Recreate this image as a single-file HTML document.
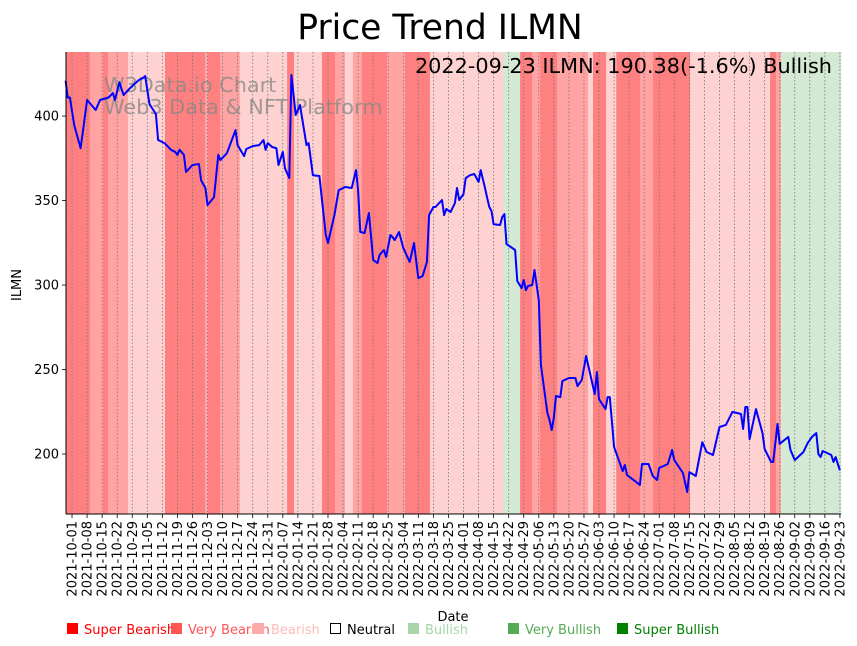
<!DOCTYPE html>
<html><head><meta charset="utf-8">
<style>
html,body{margin:0;padding:0;background:#fff;}
svg{display:block;font-family:"DejaVu Sans","Liberation Sans",sans-serif;}
</style></head>
<body>
<svg id="chart" width="857" height="646" viewBox="0 0 857 646">
<text x="440" y="39" font-size="34.5" text-anchor="middle">Price Trend ILMN</text>
<g id="bands"></g>
<g id="grid"></g>
<text x="104" y="92" font-size="20.8" fill="#888" fill-opacity="0.8">W3Data.io Chart</text>
<text x="104" y="114" font-size="20.8" fill="#888" fill-opacity="0.8">Web3 Data &amp; NFT Platform</text>
<g id="line"></g>
<text x="832" y="73" font-size="20.8" text-anchor="end">2022-09-23 ILMN: 190.38(-1.6%) Bullish</text>
<g id="axes"></g>
<text x="453" y="621" font-size="13" text-anchor="middle">Date</text>
<text transform="translate(21,285) rotate(-90)" font-size="13" text-anchor="middle">ILMN</text>
<g font-size="13">
 <rect x="67" y="623" width="11" height="11" fill="#ff0000"/>
 <text x="84" y="634" fill="#ff0000">Super Bearish</text>
 <rect x="171" y="623" width="11" height="11" fill="#ff5555"/>
 <text x="188" y="634" fill="#ff5555">Very Bearish</text>
 <rect x="253" y="623" width="11" height="11" fill="#ffaaaa"/>
 <text x="271" y="634" fill="#ffbbbb">Bearish</text>
 <rect x="330.5" y="623.5" width="10" height="10" fill="none" stroke="#000"/>
 <text x="347" y="634" fill="#000">Neutral</text>
 <rect x="408" y="623" width="11" height="11" fill="#aad4aa"/>
 <text x="425" y="634" fill="#aad4aa">Bullish</text>
 <rect x="508" y="623" width="11" height="11" fill="#55aa55"/>
 <text x="525" y="634" fill="#55aa55">Very Bullish</text>
 <rect x="617" y="623" width="11" height="11" fill="#008000"/>
 <text x="634" y="634" fill="#008000">Super Bullish</text>
</g>
</svg>
<script>
// days since 2021-10-01
const priceDays = [-3,-2,-1,1,4,5,7,11,13,17,19,20,22,24,27,31,33,34,36,39,40,43,46,48,49,50,52,53,56,59,60,62,63,66,68,69,72,76,77,80,81,84,87,89,90,91,93,95,96,98,99,101,102,104,106,109,110,112,115,118,119,122,124,127,130,132,133,134,136,138,140,142,143,145,146,148,149,150,152,154,157,159,161,163,165,166,168,169,172,173,174,176,178,179,180,182,183,185,187,189,190,192,193,194,195,196,199,200,201,202,204,206,207,209,210,211,212,214,215,217,218,221,222,223,224,225,227,228,231,234,235,237,239,243,244,245,248,249,250,252,256,257,258,264,265,268,270,272,273,277,279,280,284,286,287,290,293,295,298,301,304,307,311,312,313,314,315,318,321,322,325,326,328,329,333,334,336,340,342,344,346,347,348,349,353,354,355,357];
const priceValues = [421,411,411,394.7,381,390.5,409.5,403.6,409.5,411,413.6,409.5,420,412.4,416.6,421.3,422.5,423.7,407,401.2,385.8,384,380,378.7,377,380,377,366.9,371,371.6,362,357.4,347.3,352,377,374,378,391.7,382.8,376.3,380.5,382.2,382.8,385.8,380,384,381.7,381,371,378.7,369,363.3,424.3,400.6,406.5,382.8,384,365,364.5,329.6,324.9,341.4,356.2,358,357.4,368,356.2,331.4,330.8,342.6,314.8,313,317.8,320.7,316.6,329.6,328.4,326.6,331.4,322,313.6,324.9,304.1,305.3,313.6,341.4,346.2,346.2,350.3,341.4,345,343.2,348.5,357.4,350.3,353.8,363.3,365,365.7,361,368,357.4,351.5,346.2,343.8,336,335.5,340.2,342,324.3,322.5,320.7,302.4,298.2,303,297,299.4,300,308.9,291.1,252.7,224.3,220.1,214.2,221.3,234.3,233.7,243.2,245,245,240.2,243.8,258,235.5,248.5,232.5,226.6,233.7,233.7,204.1,189.9,193.5,187.6,181.7,194.1,194.1,187,184.6,191.7,194.1,202.4,196.4,188.8,177.5,189.3,187,207,201.2,199.4,216,217.2,224.9,223.7,214.8,227.8,227.8,208.9,226.6,212.4,203,195.3,195.3,217.8,206,210.1,202.4,196.4,201.2,206.5,210.1,212.4,200,198.2,201.8,199.4,195.3,198.2,190.38];
// sentiment bands: 3 super bearish, 2 very bearish, 1 bearish, -1 bullish
const bandStart = [-2.8,8.4,14.4,16.7,26,43.2,61.8,63.2,68.8,78,100,103.2,116.2,122.3,126.9,130.6,134.8,146.4,154.8,166.4,200.4,208.3,213.9,217.6,225.5,239.9,242.2,248.3,253,264.1,270.1,287.3,324.5,327.3,329.6];
const bandEnd   = [8.4,14.4,16.7,26,43.2,61.8,63.2,68.8,78,100,103.2,116.2,122.3,126.9,130.6,134.8,146.4,154.8,166.4,200.4,208.3,213.9,217.6,225.5,239.9,242.2,248.3,253,264.1,270.1,287.3,324.5,327.3,329.6,357.5];
const bandLevel = [3,2,3,2,1,3,2,3,2,1,3,1,3,2,1,2,3,2,3,1,-1,3,2,3,2,1,3,1,3,2,3,1,3,2,-1];
const yTicks = [200,250,300,350,400];
const xTickDays = []; for (let d = 0; d <= 357; d += 7) xTickDays.push(d);

const L=66,R=841,T=52,B=514, D0=-2.8, D1=357.5, P0=164.5, P1=437.9;
const X = d => L + (d - D0) / (D1 - D0) * (R - L);
const Y = p => B - (p - P0) / (P1 - P0) * (B - T);
const NS='http://www.w3.org/2000/svg';
const mk=(t,a,parent)=>{const e=document.createElementNS(NS,t);for(const k in a)e.setAttribute(k,a[k]);parent.appendChild(e);return e;};
const colors={3:'#ff8080',2:'#ffa3a3',1:'#ffd2d2','-1':'#d3e9d3'};
const bandsG=document.getElementById('bands');
bandStart.forEach((s,i)=>{
  const r=mk('rect',{x:X(s),y:T,width:X(bandEnd[i])-X(s)+0.3,height:B-T,fill:colors[bandLevel[i]]},bandsG);
  
  
});
const gridG=document.getElementById('grid'), axesG=document.getElementById('axes');
const fmt=d=>{const dt=new Date(Date.UTC(2021,9,1)+d*86400000);return dt.toISOString().slice(0,10);};
xTickDays.forEach(d=>{
  const x=X(d);
  const g=mk('line',{x1:x,x2:x,y1:T,y2:B,stroke:'#777','stroke-width':0.8,'stroke-dasharray':'1.5,2'},gridG);
  
  
  const tk=mk('line',{x1:x,x2:x,y1:B,y2:B+4,stroke:'#000','stroke-width':0.8},axesG);
  
  
  const t=mk('text',{transform:`translate(${x+4.5},${B+7}) rotate(-90)`,'font-size':13,'text-anchor':'end'},axesG);
  t.textContent=fmt(d);
  
  
});
yTicks.forEach(v=>{
  const y=Y(v);
  const tk=mk('line',{x1:L-4,x2:L,y1:y,y2:y,stroke:'#000','stroke-width':0.8},axesG);
  
  
  const t=mk('text',{x:L-7,y:y+4.5,'font-size':13,'text-anchor':'end'},axesG);
  t.textContent=v;
  
  
});
const la=mk('line',{x1:L,x2:L,y1:T,y2:B,stroke:'#000','stroke-width':1},axesG);


const ba=mk('line',{x1:L,x2:R,y1:B,y2:B,stroke:'#000','stroke-width':1},axesG);


const pts=priceDays.map((d,i)=>X(d).toFixed(1)+','+Y(priceValues[i]).toFixed(1)).join(' ');
const pl=mk('polyline',{points:pts,fill:'none',stroke:'#0000ff','stroke-width':2,'stroke-linejoin':'round'},document.getElementById('line'));


</script>
</body></html>
